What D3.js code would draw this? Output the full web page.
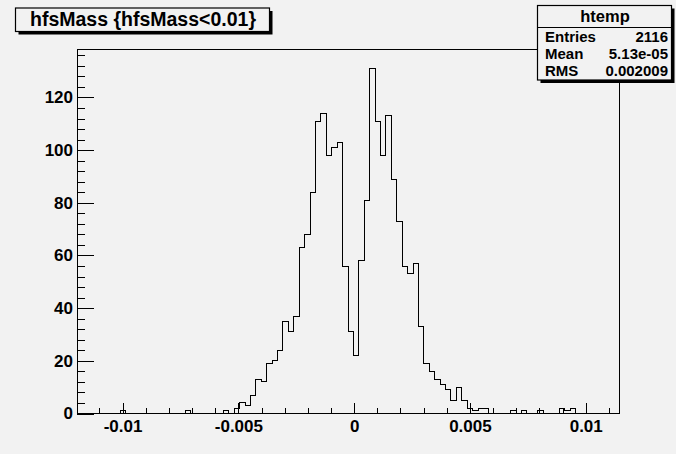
<!DOCTYPE html>
<meta charset="utf-8">
<style>
    body { margin: 0; background: #f2f2f2; }
    svg { display: block; background: #f2f2f2; }
    text { font-family: "Liberation Sans", Arial, sans-serif; font-weight: bold; fill: #000; }
    .axis path { display: none; }
    .axis line { stroke: #000; shape-rendering: crispEdges; }
    .axis text { font-size: 17px; }
    .frame { fill: none; stroke: #000; shape-rendering: crispEdges; }
    .hist { fill: none; stroke: #000; stroke-width: 1; shape-rendering: crispEdges; }
</style>
<svg width="676" height="454"></svg>
<script src="https://d3js.org/d3.v7.min.js"></script>
<script>

    // hfsMass histogram, 100 bins
    var xLow = -0.011968,
        xHigh = 0.011437,
        yMax = 138.2;

    var binCounts = [
        0, 0, 0, 0, 0, 0, 0, 0, 1, 0,
        0, 0, 0, 0, 0, 0, 0, 0, 0, 0,
        1, 0, 0, 0, 0, 0, 0, 1, 0, 2,
        4, 3, 7, 13, 12, 19, 20, 24, 35, 31,
        37, 63, 68, 84, 111, 114, 98, 101, 103, 56,
        31, 22, 58, 81, 131, 111, 98, 113, 89, 73,
        56, 53, 57, 33, 19, 16, 13, 11, 9, 5,
        10, 5, 2, 1, 2, 2, 0, 0, 0, 0,
        1, 0, 1, 0, 0, 1, 0, 0, 0, 2,
        1, 2, 0, 0, 0, 0, 0, 0, 0, 0
    ];

    var xTicks = [-0.01, -0.005, 0, 0.005, 0.01],
        xTickLabels = ["-0.01", "-0.005", "0", "0.005", "0.01"],
        xMinorTicks = d3.range(-11, 12).map(function(i) { return i / 1000; }),
        yTicks = [0, 20, 40, 60, 80, 100, 120],
        yMinorTicks = d3.range(0, 137, 4);

    var titleText = "hfsMass {hfsMass<0.01}";
    var statsName = "htemp",
        statsLabels = ["Entries", "Mean", "RMS"],
        statsValues = ["2116", "5.13e-05", "0.002009"];

    var svg = d3.select("svg"),
        frame = {left: 77, right: 619, top: 49.5, bottom: 413.5};

    var x = d3.scaleLinear().domain([xLow, xHigh]).range([frame.left, frame.right]),
        y = d3.scaleLinear().domain([0, yMax]).range([frame.bottom, frame.top]);

    var binWidth = (xHigh - xLow) / binCounts.length;

    // frame
    svg.append("rect")
        .attr("class", "frame")
        .attr("x", frame.left + 0.5)
        .attr("y", frame.top)
        .attr("width", frame.right - frame.left)
        .attr("height", frame.bottom - frame.top);

    // histogram outline
    var pts = binCounts.map(function(c, i) { return [xLow + i * binWidth, c]; });
    pts.push([xHigh, binCounts[binCounts.length - 1]]);

    var line = d3.line()
        .x(function(d) { return x(d[0]); })
        .y(function(d) { return y(d[1]); })
        .curve(d3.curveStepAfter);

    svg.append("path")
        .attr("class", "hist")
        .attr("d", line(pts));

    // x axis
    svg.append("g")
        .attr("class", "axis")
        .attr("transform", "translate(0," + frame.bottom + ")")
        .call(d3.axisBottom(x).tickValues(xMinorTicks).tickSize(-5.5).tickFormat(""));

    svg.append("g")
        .attr("class", "axis")
        .attr("transform", "translate(0," + frame.bottom + ")")
        .call(d3.axisBottom(x).tickValues(xTicks).tickSize(-11).tickPadding(6)
            .tickFormat(function(d, i) { return xTickLabels[i]; }));

    // y axis
    svg.append("g")
        .attr("class", "axis")
        .attr("transform", "translate(" + frame.left + ",0)")
        .call(d3.axisLeft(y).tickValues(yMinorTicks).tickSize(-8).tickFormat(""));

    svg.append("g")
        .attr("class", "axis")
        .attr("transform", "translate(" + frame.left + ",0)")
        .call(d3.axisLeft(y).tickValues(yTicks).tickSize(-16.5).tickPadding(4));

    // pave with shadow
    function pave(x0, y0, w, h) {
        svg.append("rect")
            .attr("x", x0 + 3).attr("y", y0 + 3)
            .attr("width", w).attr("height", h)
            .attr("fill", "#000");
        svg.append("rect")
            .attr("x", x0).attr("y", y0)
            .attr("width", w).attr("height", h)
            .attr("fill", "#f2f2f2")
            .attr("stroke", "#000")
            .attr("stroke-width", 1.2);
    }

    // title
    pave(15.5, 8, 254, 23.5);
    svg.append("text")
        .attr("x", 143)
        .attr("y", 26)
        .attr("text-anchor", "middle")
        .style("font-size", "19.5px")
        .text(titleText);

    // stats box
    pave(537.5, 5.5, 134, 74.5);
    svg.append("line")
        .attr("x1", 537.5).attr("x2", 671.5)
        .attr("y1", 27.5).attr("y2", 27.5)
        .attr("stroke", "#000");
    svg.append("text")
        .attr("x", 605)
        .attr("y", 21.5)
        .attr("text-anchor", "middle")
        .style("font-size", "16.5px")
        .text(statsName);

    var rowY = [41.5, 59, 76];
    statsLabels.forEach(function(lab, i) {
        svg.append("text")
            .attr("x", 545).attr("y", rowY[i])
            .style("font-size", "15px")
            .text(lab);
        svg.append("text")
            .attr("x", 668).attr("y", rowY[i])
            .attr("text-anchor", "end")
            .style("font-size", "15px")
            .text(statsValues[i]);
    });
</script>
